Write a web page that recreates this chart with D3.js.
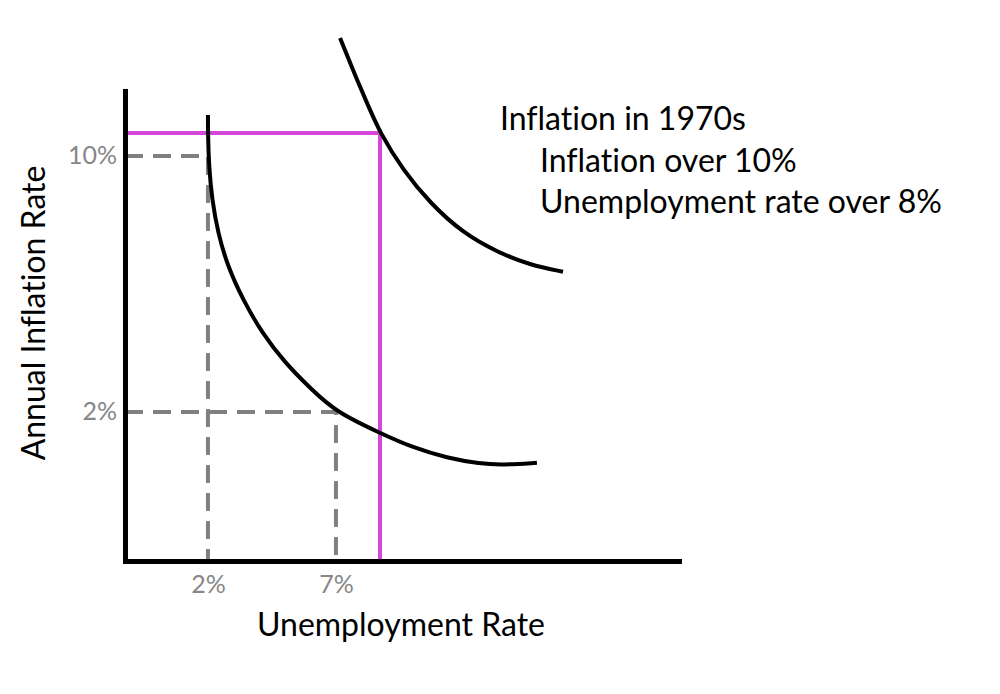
<!DOCTYPE html>
<html>
<head>
<meta charset="utf-8">
<script src="https://cdn.jsdelivr.net/npm/d3@7"></script>
<style>
  body { margin: 0; background: #fff; }
  text { font-family: Lato, "Open Sans", sans-serif; font-variant-ligatures: none; }
</style>
</head>
<body>
<div id="chart"></div>
<script>
// tick values (percent)
const xTicks = [2, 7]
const yTicks = [2, 10]

// Phillips curve, 1960s (unemployment %, inflation %)
const lowerUnemp = [2.00, 2.00, 2.04, 2.16, 2.39, 2.78, 3.37, 4.11, 5.01, 6.06, 7.00, 8.72, 10.01, 11.34, 12.63, 13.52, 14.85]
const lowerInfl  = [11.28, 10.72, 9.66, 8.63, 7.59, 6.53, 5.50, 4.47, 3.53, 2.69, 2.00, 1.34, 0.88, 0.56, 0.38, 0.34, 0.41]

// shifted curve, 1970s
const upperUnemp = [7.16, 7.66, 8.21, 8.72, 9.62, 10.67, 11.96, 13.29, 14.58, 15.87]
const upperInfl  = [13.69, 12.69, 11.66, 10.72, 9.56, 8.53, 7.59, 7.00, 6.59, 6.38]

// 1970s point and guide points
const point1970s = { u: 8.72, i: 10.72 }
const guidePoints = [{ u: 2, i: 10 }, { u: 7, i: 2 }]

const noteLines = ["Inflation in 1970s", "Inflation over 10%", "Unemployment rate over 8%"]

const width = 1000
const height = 694
const colors = { curve: "#000", guide: "#808080", highlight: "#d646d8", tickText: "#878787" }

const svg = d3.select("#chart").append("svg")
    .attr("width", width)
    .attr("height", height)

const x = d3.scaleLinear().domain([-1.24, 20.4]).range([125, 679])
const y = d3.scaleLinear().domain([-2.66, 12.03]).range([561, 91])

const xMin = x.domain()[0]
const yMin = y.domain()[0]

// dashed guide lines
guidePoints.forEach(p => {
  svg.append("path")
      .attr("d", `M${x(xMin)},${y(p.i)}H${x(p.u)}V${y(yMin)}`)
      .attr("fill", "none")
      .attr("stroke", colors.guide)
      .attr("stroke-width", 4)
      .attr("stroke-dasharray", "18,10")
})

// highlight lines for the 1970s
svg.append("path")
    .attr("d", `M${x(xMin)},${y(point1970s.i)}H${x(point1970s.u)}V${y(yMin)}`)
    .attr("fill", "none")
    .attr("stroke", colors.highlight)
    .attr("stroke-width", 4)

const line = d3.line()
  .x(d => x(d[0]))
  .y(d => y(d[1]))
  .curve(d3.curveBasis)

svg.append("path")
    .datum(d3.zip(lowerUnemp, lowerInfl))
    .attr("d", line)
    .attr("fill", "none")
    .attr("stroke", colors.curve)
    .attr("stroke-width", 4)

svg.append("path")
    .datum(d3.zip(upperUnemp, upperInfl))
    .attr("d", line)
    .attr("fill", "none")
    .attr("stroke", colors.curve)
    .attr("stroke-width", 4)

// axes
const xAxis = svg.append("g")
    .attr("transform", `translate(0,${y(yMin)})`)
    .call(d3.axisBottom(x).tickValues(xTicks).tickFormat(d => `${d}%`).tickSize(0).tickPadding(14))

const yAxis = svg.append("g")
    .attr("transform", `translate(${x(xMin)},0)`)
    .call(d3.axisLeft(y).tickValues(yTicks).tickFormat(d => `${d}%`).tickSize(0).tickPadding(8))

svg.selectAll(".domain")
    .attr("stroke", "#000")
    .attr("stroke-width", 5)
    .attr("stroke-linecap", "square")

svg.selectAll(".tick text")
    .attr("fill", colors.tickText)
    .style("font-size", "25px")
    .style("font-family", "Lato, sans-serif")

// axis titles
svg.append("text")
    .attr("x", 401)
    .attr("y", 636)
    .attr("text-anchor", "middle")
    .style("font-size", "32px")
    .text("Unemployment Rate")

svg.append("text")
    .attr("transform", "translate(45,313) rotate(-90)")
    .attr("text-anchor", "middle")
    .style("font-size", "32px")
    .text("Annual Inflation Rate")

// note
const note = svg.append("text")
    .style("font-size", "32px")
noteLines.forEach((t, i) => {
  note.append("tspan")
      .attr("x", i === 0 ? 500 : 540)
      .attr("y", 130 + i * 41.5)
      .text(t)
})
</script>
</body>
</html>
